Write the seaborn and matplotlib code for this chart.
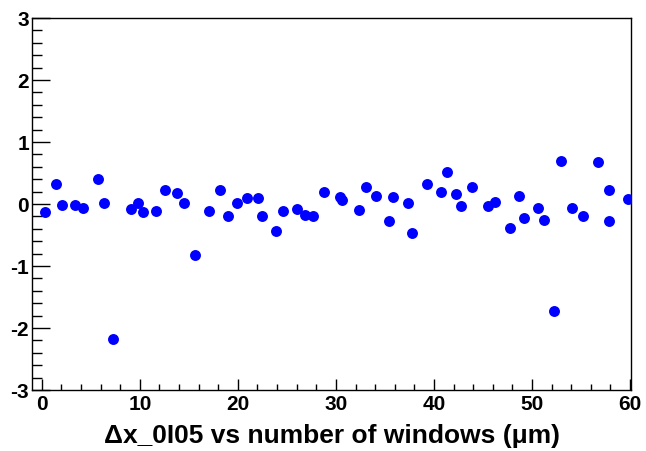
import matplotlib
matplotlib.use("Agg")
import matplotlib.pyplot as plt
import seaborn as sns
import pandas as pd
from matplotlib.ticker import MultipleLocator

windows = [0.3, 1.4, 2.1, 3.4, 4.2, 5.75, 6.3, 7.3, 9.05, 9.8, 10.3, 11.6, 12.55,
           13.75, 14.5, 15.6, 17.1, 18.2, 19.0, 19.95, 20.9, 22.1, 22.5, 23.9, 24.6,
           26.05, 26.8, 27.7, 28.8, 30.4, 30.6, 32.4, 33.1, 34.05, 35.4, 35.85, 37.35,
           37.8, 39.3, 40.7, 41.3, 42.2, 42.8, 43.85, 45.5, 46.2, 47.8, 48.7, 49.15,
           50.65, 51.25, 52.2, 52.95, 54.1, 55.2, 56.7, 57.9, 57.9, 59.8]
delta_x = [-0.13, 0.33, -0.01, -0.01, -0.06, 0.41, 0.01, -2.18, -0.08, 0.01, -0.13,
           -0.12, 0.23, 0.17, 0.02, -0.82, -0.12, 0.23, -0.20, 0.02, 0.09, 0.09, -0.20,
           -0.44, -0.12, -0.08, -0.17, -0.20, 0.19, 0.11, 0.06, -0.10, 0.28, 0.13, -0.27,
           0.11, 0.02, -0.46, 0.33, 0.20, 0.52, 0.16, -0.03, 0.28, -0.04, 0.04, -0.39,
           0.13, -0.23, -0.06, -0.25, -1.73, 0.70, -0.06, -0.20, 0.68, 0.23, -0.27, 0.08]
x_label = "\u0394x_0I05 vs number of windows (\u03bcm)"

df = pd.DataFrame({"windows": windows, "dx": delta_x})

sns.set_style("white")
plt.rcParams["font.family"] = ["Liberation Sans", "DejaVu Sans"]
plt.rcParams["font.weight"] = "bold"
plt.rcParams["axes.unicode_minus"] = False
plt.rcParams["text.color"] = "black"
plt.rcParams["axes.labelcolor"] = "black"
plt.rcParams["xtick.color"] = "black"
plt.rcParams["ytick.color"] = "black"

fig = plt.figure(figsize=(6.46, 4.52), dpi=100)
ax = fig.add_axes([32 / 646, 1 - 391 / 452, 599 / 646, 372 / 452])

sns.scatterplot(data=df, x="windows", y="dx", ax=ax, color="#0000ff",
                s=62, linewidth=0, marker="o", legend=False, zorder=3)

ax.set_xlim(-1.0, 60.1)
ax.set_ylim(-3, 3)
ax.xaxis.set_major_locator(MultipleLocator(10))
ax.xaxis.set_minor_locator(MultipleLocator(2))
ax.yaxis.set_major_locator(MultipleLocator(1))
ax.yaxis.set_minor_locator(MultipleLocator(0.2))

ax.tick_params(axis="x", which="major", direction="in", length=8, width=1,
               color="black", labelcolor="black", labelsize=15, pad=3,
               top=False, bottom=True)
ax.tick_params(axis="x", which="minor", direction="in", length=4, width=1,
               color="black", top=False, bottom=True)
ax.tick_params(axis="y", which="major", direction="in", length=13, width=1,
               color="black", labelcolor="black", labelsize=15, pad=2,
               left=True, right=False)
ax.tick_params(axis="y", which="minor", direction="in", length=7, width=1,
               color="black", left=True, right=False)
for lab in ax.get_xticklabels() + ax.get_yticklabels():
    lab.set_fontweight("bold")

for sp in ax.spines.values():
    sp.set_visible(True)
    sp.set_color("black")
    sp.set_linewidth(1)

ax.set_xlabel(x_label, fontsize=19, fontweight="bold", labelpad=7, color="black")
ax.set_ylabel("")

fig.savefig("out.png", dpi=100, facecolor="white")
